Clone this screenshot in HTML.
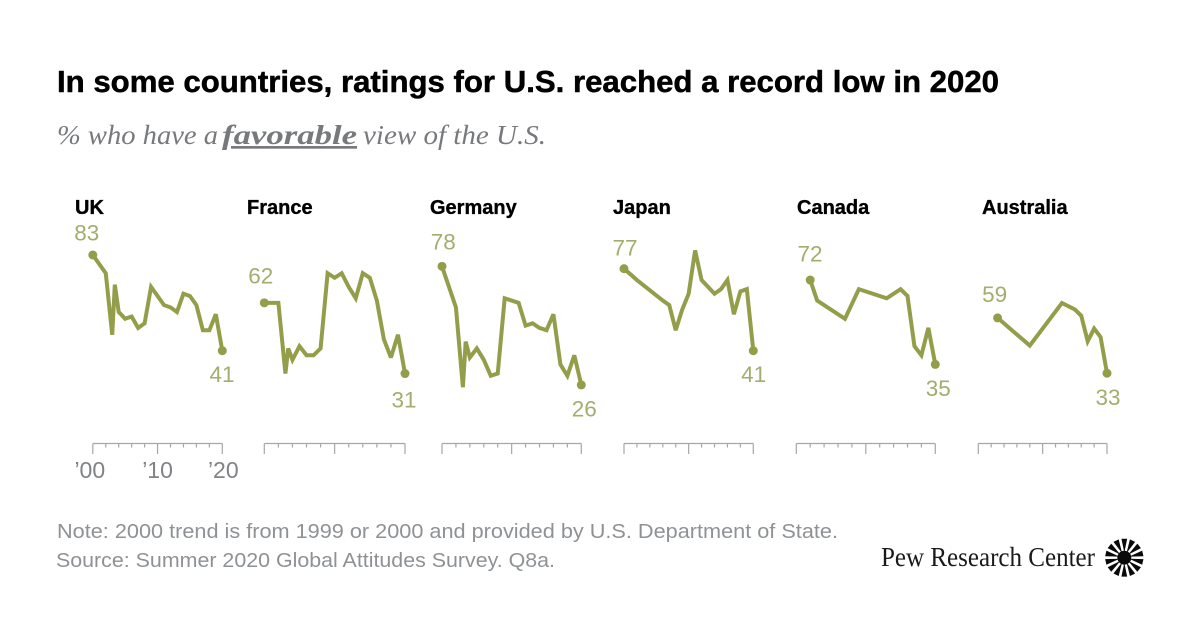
<!DOCTYPE html>
<html lang="en">
<head>
<meta charset="utf-8">
<title>In some countries, ratings for U.S. reached a record low in 2020</title>
<style>
html,body{margin:0;padding:0;background:#fff;width:1200px;height:628px;overflow:hidden}
svg{display:block}
text{font-family:"Liberation Sans",sans-serif}
</style>
</head>
<body>
<svg id="chart" xmlns="http://www.w3.org/2000/svg" width="1200" height="628" viewBox="0 0 1200 628">
  <text x="57" y="92" font-size="31" font-weight="700" fill="#000" stroke="#000" stroke-width="0.5" textLength="942" lengthAdjust="spacingAndGlyphs">In some countries, ratings for U.S. reached a record low in 2020</text>
  <g fill="#77797c" font-style="italic" font-size="27">
    <text x="57" y="144" style="font-family:'Liberation Serif',serif" textLength="161" lengthAdjust="spacingAndGlyphs">% who have a</text>
    <text x="222" y="144" font-weight="700" style="font-family:'Liberation Serif',serif" text-decoration="underline" textLength="135" lengthAdjust="spacingAndGlyphs">favorable</text>
    <text x="363" y="144" style="font-family:'Liberation Serif',serif" textLength="183" lengthAdjust="spacingAndGlyphs">view of the U.S.</text>
  </g>
  <g id="panels"></g>
  <text x="57" y="538" font-size="20.5" fill="#8f9295" textLength="781" lengthAdjust="spacingAndGlyphs">Note: 2000 trend is from 1999 or 2000 and provided by U.S. Department of State.</text>
  <text x="56" y="567" font-size="20.5" fill="#8f9295" textLength="499" lengthAdjust="spacingAndGlyphs">Source: Summer 2020 Global Attitudes Survey. Q8a.</text>
  <text x="881" y="566" font-size="27" fill="#1a1a1a" style="font-family:'Liberation Serif',serif" textLength="214" lengthAdjust="spacingAndGlyphs">Pew Research Center</text>
  <g id="sunburst"></g>
</svg>
<script>
// Data
const ukYears = [2000,2002,2003,2003.4,2004,2005,2006,2007,2008,2009,2010,2011,2012,2013,2014,2015,2016,2017,2018,2019,2020];
const ukValues = [83,75,48,70,58,55,56,51,53,69,65,61,60,58,66,65,61,50,50,57,41];
const franceYears = [2000,2002,2003,2003.4,2004,2005,2006,2007,2008,2009,2010,2011,2012,2013,2014,2015,2016,2017,2018,2019,2020];
const franceValues = [62,62,31,42,37,43,39,39,42,75,73,75,69,64,75,73,63,46,38,48,31];
const germanyYears = [2000,2002,2003,2003.4,2004,2005,2006,2007,2008,2009,2010,2011,2012,2013,2014,2015,2016,2017,2018,2019,2020];
const germanyValues = [78,60,25,45,38,42,37,30,31,64,63,62,52,53,51,50,57,35,30,39,26];
const japanYears = [2000,2002,2006,2007,2008,2009,2010,2011,2012,2013,2014,2015,2016,2017,2018,2019,2020];
const japanValues = [77,72,63,61,50,59,66,85,72,69,66,68,72,57,67,68,41];
const canadaYears = [2002,2003,2005,2007,2009,2013,2015,2016,2017,2018,2019,2020];
const canadaValues = [72,63,59,55,68,64,68,65,43,39,51,35];
const australiaYears = [2003,2008,2013,2015,2016,2017,2018,2019,2020];
const australiaValues = [59,46,66,63,60,48,54,50,33];
const tickYears = [2000,2002,2004,2006,2008,2010,2012,2014,2016,2018,2020];
const axisLabelYears = [2000,2010,2020];
const axisLabelTexts = ["\u201900","\u201910","\u201920"];

const SVGNS = "http://www.w3.org/2000/svg";
const LINE = "#949e4a", LABEL = "#a3ad6e", AXIS = "#a5a7a9", AXTEXT = "#808285";
const panelsRoot = document.getElementById("panels");

function mk(tag, parent, attrs){
  const e = document.createElementNS(SVGNS, tag);
  for (const k in attrs) e.setAttribute(k, attrs[k]);
  parent.appendChild(e);
  return e;
}

function drawPanel(p){
  const xScale = y => p.left + (y - 2000) / 20 * (p.right - p.left);
  const yScale = v => p.yBase - v * p.yUnit;
  const slug = p.name.toLowerCase();

  const g = mk("g", panelsRoot, {});
  
  

  const title = mk("text", g, {x:p.titleX, y:214, "font-size":20, "font-weight":700, fill:"#000", stroke:"#000", "stroke-width":0.35});
  title.textContent = p.name;
  
  

  // axis
  const axis = mk("g", g, {stroke:AXIS, "stroke-width":1.2, fill:"none"});
  
  
  const base = mk("line", axis, {x1:xScale(2000), x2:xScale(2020), y1:443.5, y2:443.5});
  
  
  tickYears.forEach(yr => {
    const major = yr % 10 === 0;
    const t = mk("line", axis, {x1:xScale(yr), x2:xScale(yr), y1:443.5, y2:major ? 454 : 447.5});
    
    
  });
  if (p.showYears) {
    axisLabelYears.forEach((yr, i) => {
      const t = mk("text", g, {x:xScale(yr) + (i - 1) * 1 + (i === 0 ? -2 : 0), y:478, "font-size":23, fill:AXTEXT, "text-anchor":"middle"});
      t.textContent = axisLabelTexts[i];
      
      
    });
  }

  // line
  const pts = p.years.map((y, i) => xScale(y).toFixed(2) + "," + yScale(p.values[i]).toFixed(2)).join(" ");
  const line = mk("polyline", g, {points:pts, fill:"none", stroke:LINE, "stroke-width":4, "stroke-linejoin":"miter", "stroke-miterlimit":3});
  
  

  // end points + labels
  const lastI = p.values.length - 1;
  const startDot = mk("circle", g, {cx:xScale(p.years[0]), cy:yScale(p.values[0]), r:4.5, fill:LINE});
  
  
  const endDot = mk("circle", g, {cx:xScale(p.years[lastI]), cy:yScale(p.values[lastI]), r:4.5, fill:LINE});
  
  

  const startLabel = mk("text", g, {x:xScale(p.years[0]) + p.startDx, y:yScale(p.values[0]) + p.startDy, "font-size":22.5, fill:LABEL, "text-anchor":"middle"});
  startLabel.textContent = p.values[0];
  
  
  const endLabel = mk("text", g, {x:xScale(p.years[lastI]) + p.endDx, y:yScale(p.values[lastI]) + p.endDy, "font-size":22.5, fill:LABEL, "text-anchor":"middle"});
  endLabel.textContent = p.values[lastI];
  
  
}

drawPanel({name:"UK", years:ukYears, values:ukValues, left:92.8, right:222.3, titleX:75, yBase:444.2, yUnit:2.28, startDx:-6, startDy:-14.3, endDx:-0.3, endDy:31.3, showYears:true});
drawPanel({name:"France", years:franceYears, values:franceValues, left:264.3, right:405, titleX:247, yBase:444.2, yUnit:2.28, startDx:-3.5, startDy:-19.4, endDx:-1, endDy:34, showYears:false});
drawPanel({name:"Germany", years:germanyYears, values:germanyValues, left:442, right:581.3, titleX:430, yBase:444.2, yUnit:2.28, startDx:1.3, startDy:-16.7, endDx:3, endDy:31.5, showYears:false});
drawPanel({name:"Japan", years:japanYears, values:japanValues, left:624, right:753.3, titleX:613, yBase:444.2, yUnit:2.28, startDx:1, startDy:-13.3, endDx:0.4, endDy:31.3, showYears:false});
drawPanel({name:"Canada", years:canadaYears, values:canadaValues, left:796.3, right:935.3, titleX:797, yBase:444.2, yUnit:2.28, startDx:-0.2, startDy:-18.6, endDx:3, endDy:31.5, showYears:false});
drawPanel({name:"Australia", years:australiaYears, values:australiaValues, left:978.3, right:1107, titleX:982, yBase:443.4, yUnit:2.127, startDx:-3, startDy:-16, endDx:1, endDy:31.7, showYears:false});

// Pew logo mark
const sun = document.getElementById("sunburst");
const cx = 1124.3, cy = 557.7;
for (let i = 0; i < 14; i++) {
  const a = (i + 0.5) / 14 * Math.PI * 2;
  const da = 0.15;
  const r0 = 5, r1 = 19.2;
  const d = [
    [cx + r0 * Math.cos(a), cy + r0 * Math.sin(a)],
    [cx + r1 * Math.cos(a - da), cy + r1 * Math.sin(a - da)],
    [cx + r1 * Math.cos(a + da), cy + r1 * Math.sin(a + da)]
  ].map(q => q[0].toFixed(2) + "," + q[1].toFixed(2)).join(" ");
  const ray = mk("polygon", sun, {points:d, fill:"#0a0a0a"});
  
  
}
const core = mk("circle", sun, {cx:cx, cy:cy, r:7, fill:"#0a0a0a"});


</script>
</body>
</html>
